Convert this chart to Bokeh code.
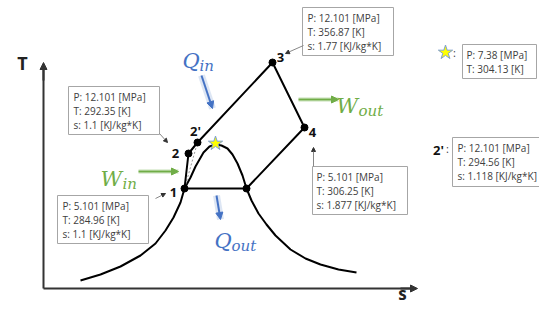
from bokeh.plotting import figure
from bokeh.models import Range1d, Arrow, NormalHead
from bokeh.core.properties import value
from bokeh.embed import file_html
from bokeh.resources import INLINE

# ---------------- data ----------------
state_labels = ["1", "2", "2'", "3", "4"]
state_P = [5.101, 12.101, 12.101, 12.101, 5.101]      # MPa
state_T = [284.96, 292.35, 294.56, 356.87, 306.25]    # K
state_s = [1.1, 1.1, 1.118, 1.77, 1.877]              # KJ/kg*K
crit_P = 7.38
crit_T = 304.13

# schematic T-s positions (s -> right, T -> up)
sch_s = [184, 188, 197, 272, 304]
sch_T = [133, 168, 179, 259, 194]
satvap_s = 246
satvap_T = 133
crit_s = 215
crit_Tsch = 178

dome_s = [80, 100, 120, 140, 155, 165, 173, 180, 184, 190, 195, 203, 209, 215,
          221, 227, 232, 237, 242, 246, 251, 258, 266, 275, 290, 305, 320, 338, 356]
dome_T = [41, 47, 55, 66, 78, 91, 104, 119, 133, 144, 155, 169, 175, 177,
          176, 173, 167, 158, 146, 133, 121, 108, 97, 86, 72, 63, 57, 52, 49]

H = 321
def Y(px):
    return H - px

p = figure(width=539, height=305, x_range=Range1d(0, 539), y_range=Range1d(16, 321),
           x_axis_type=None, y_axis_type=None, toolbar_location=None,
           output_backend="svg", min_border=0, outline_line_color=None)
p.grid.visible = False
p.background_fill_color = "white"

AX = "#333333"
# axes
p.line([43, 43], [Y(288), Y(66)], line_color=AX, line_width=2)
p.add_layout(Arrow(end=NormalHead(size=7, fill_color=AX, line_color=AX), x_start=43, y_start=Y(80),
                   x_end=43, y_end=Y(62), line_color=AX, line_width=2))
p.line([43, 412], [Y(288), Y(288)], line_color=AX, line_width=2)
p.add_layout(Arrow(end=NormalHead(size=7, fill_color=AX, line_color=AX), x_start=400, y_start=Y(288),
                   x_end=417, y_end=Y(288), line_color=AX, line_width=2))
p.text([22], [Y(62)], text=["T"], text_font=value("Open Sans"), text_font_size="18px",
       text_font_style="bold", text_align="center", text_baseline="middle", text_color="#222222")
p.text([402], [Y(293)], text=["s"], text_font=value("Open Sans"), text_font_size="17px",
       text_font_style="bold", text_align="center", text_baseline="middle", text_color="#222222")

# saturation dome
p.line(dome_s, dome_T, line_color="black", line_width=2)

# isentropic reference (dotted)
p.line([sch_s[0], sch_s[2]], [sch_T[0], sch_T[2]], line_color="#999999", line_width=1, line_dash="2 2")

# cycle
cyc_s = [sch_s[0], sch_s[1], sch_s[2], sch_s[3], sch_s[4], satvap_s, sch_s[0]]
cyc_T = [sch_T[0], sch_T[1], sch_T[2], sch_T[3], sch_T[4], satvap_T, sch_T[0]]
p.line(cyc_s, cyc_T, line_color="black", line_width=2)
p.scatter(cyc_s[:-1], cyc_T[:-1], marker="circle", size=7, fill_color="black", line_color="black")

# critical point star
p.scatter([crit_s], [crit_Tsch], marker="star", size=15, fill_color="#ffff00", line_color="#7f9fd0", line_width=1)

# state labels
lab_x = [173, 175, 195, 280, 312]
lab_y = [Y(192), Y(153), Y(130), Y(57), Y(132)]
p.text(lab_x, lab_y, text=state_labels, text_font=value("Open Sans"), text_font_size="13px",
       text_font_style="bold", text_align="center", text_baseline="middle", text_color="#111111")

# callout boxes
def box(x0, x1, y0, y1, lines, tx):
    p.quad(left=[x0], right=[x1], top=[Y(y0)], bottom=[Y(y1)], fill_color="white",
           line_color="#a6a6a6", line_width=1)
    n = len(lines)
    ys = [Y(y0 + 10 + 14 * i) for i in range(n)]
    p.text([tx] * n, ys, text=lines, text_font=value("Open Sans"), text_font_size="10px",
           text_align="left", text_baseline="middle", text_color="#404040")

def lines3(i):
    return ["P: %s [MPa]" % state_P[i], "T: %s [K]" % state_T[i], "s: %s [KJ/kg*K]" % state_s[i]]

box(68, 159, 86, 134, lines3(1), 73)
box(302, 393, 7, 55, lines3(3), 307)
box(312, 407, 166, 214, lines3(4), 316)
box(57, 148, 195, 243, lines3(0), 62)
box(452, 550, 137, 186, lines3(2), 457)
box(462, 536, 44, 78, ["P: %s [MPa]" % crit_P, "T: %s [K]" % crit_T], 466)

# legend-like markers on the right
p.scatter([445], [Y(52)], marker="star", size=15, fill_color="#ffff00", line_color="#7f9fd0", line_width=1)
p.text([454], [Y(52)], text=[":"], text_font=value("Open Sans"), text_font_size="11px",
       text_align="center", text_baseline="middle", text_color="#404040")
p.text([438], [Y(149)], text=["2'"], text_font=value("Open Sans"), text_font_size="13px",
       text_font_style="bold", text_align="center", text_baseline="middle", text_color="#111111")
p.text([447], [Y(148)], text=[":"], text_font=value("Open Sans"), text_font_size="11px",
       text_align="center", text_baseline="middle", text_color="#404040")

# leader lines
def leader(x0, y0, x1, y1):
    p.add_layout(Arrow(end=NormalHead(size=4, fill_color="#333333", line_color="#333333"),
                       x_start=x0, y_start=Y(y0), x_end=x1, y_end=Y(y1),
                       line_color="#888888", line_width=1))

leader(159, 133, 167, 142)
leader(303, 45, 285, 53)
leader(313, 166, 313, 147)
leader(155, 198, 165, 193)

# energy arrows
GREEN = "#70ad47"
BLUE = "#4472c4"
def energy_arrow(x0, y0, x1, y1, c, glow):
    p.line([x0, x1], [Y(y0), Y(y1)], line_color=c, line_width=7 if glow else 5,
           line_alpha=0.18 if glow else 0.2)
    p.add_layout(Arrow(end=NormalHead(size=7, fill_color=c, line_color=c), x_start=x0, y_start=Y(y0),
                       x_end=x1, y_end=Y(y1), line_color=c, line_width=2))

energy_arrow(138, 171, 178, 171, GREEN, False)
energy_arrow(298, 99, 338, 99, GREEN, False)
energy_arrow(201, 75, 212, 108, BLUE, True)
energy_arrow(216, 195, 220, 219, BLUE, True)

def mathlabel(x, y, main, sub, dx, c):
    p.text([x], [Y(y)], text=[main], text_font=value("DejaVu Serif"), text_font_size="21px",
           text_font_style="italic", text_align="left", text_baseline="alphabetic", text_color=c)
    p.text([x + dx], [Y(y + 5)], text=[sub], text_font=value("DejaVu Serif"), text_font_size="15px",
           text_font_style="italic", text_align="left", text_baseline="alphabetic", text_color=c)

mathlabel(182, 60, "Q", "in", 17, BLUE)
mathlabel(214, 240, "Q", "out", 17, BLUE)
mathlabel(100, 178, "W", "in", 22, GREEN)
mathlabel(336, 105, "W", "out", 22, GREEN)

open("out.html", "w").write(file_html(p, INLINE))
